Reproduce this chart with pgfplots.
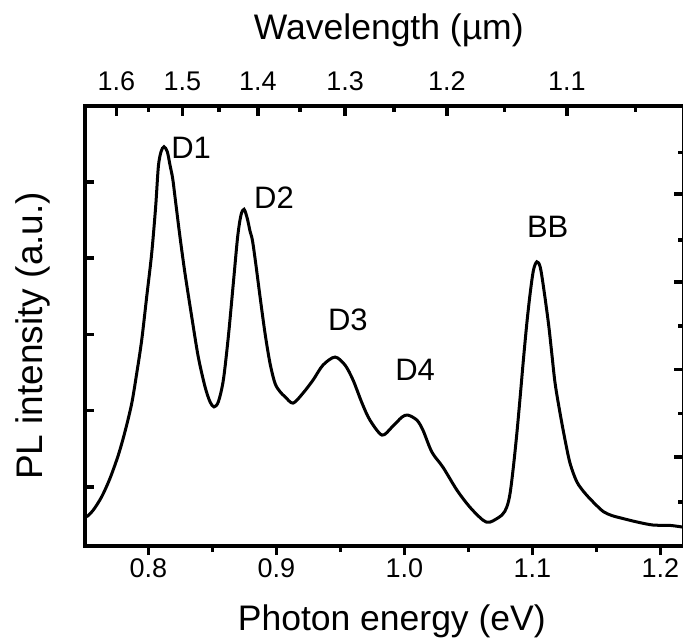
\documentclass[border=0pt]{standalone}
\usepackage{fontspec}
\setmainfont{Liberation Sans}
\usepackage{pgfplots}
\pgfplotsset{compat=1.18}
\begin{document}
\begin{tikzpicture}
\pgfplotsset{
  common/.style={
    width=599pt, height=440pt, scale only axis,
    xmin=0.7504, xmax=1.2187, ymin=0.223, ymax=5.993,
    axis line style={line width=4pt},
    every tick/.style={line width=3.5pt, black},
    /pgf/number format/assume math mode=true,
    tick label style={font=\fontsize{27}{32}\selectfont},
    label style={font=\fontsize{35.5}{42}\selectfont},
  }
}
\begin{axis}[common, name=ax,
  xtick={0.8,0.9,1.0,1.1,1.2},
  xticklabels={0.8,0.9,1.0,1.1,1.2},
  minor xtick={0.85,0.95,1.05,1.15},
  ytick={1,2,3,4,5}, yticklabels={},
  xtick pos=bottom, ytick pos=left,
  xtick align=outside, ytick align=inside,
  major tick length=9pt, minor tick length=6pt,
  xlabel={Photon energy (eV)},
  ylabel={PL intensity (a.u.)},
  xlabel style={at={(axis description cs:0.512,-0.171)}, anchor=center},
  ylabel style={at={(axis description cs:-0.0876,0.478)}, anchor=center, font=\fontsize{37}{44}\selectfont},
]
\addplot[black, line width=3pt, smooth] coordinates {
(0.7517,0.607) (0.7568,0.695) (0.7634,0.870) (0.7699,1.111) (0.7764,1.416)
(0.7816,1.722) (0.7869,2.094) (0.7908,2.488) (0.7947,2.924) (0.7986,3.492)
(0.8025,4.060) (0.8056,4.672) (0.8077,5.197) (0.8098,5.394) (0.8121,5.460)
(0.8147,5.394) (0.8168,5.220) (0.8189,5.045) (0.8207,4.805) (0.8246,4.280)
(0.8285,3.803) (0.8338,3.230) (0.8389,2.705) (0.8442,2.312) (0.8481,2.115)
(0.8512,2.049) (0.8546,2.115) (0.8585,2.400) (0.8624,2.968) (0.8663,3.668)
(0.8697,4.280) (0.8723,4.564) (0.8747,4.639) (0.8772,4.520) (0.8794,4.350)
(0.8812,4.236) (0.8838,3.931) (0.8872,3.492) (0.8911,3.012) (0.8950,2.619)
(0.8989,2.357) (0.9028,2.248) (0.9067,2.182) (0.9130,2.098) (0.9208,2.230)
(0.9286,2.400) (0.9364,2.597) (0.9458,2.702) (0.9536,2.597) (0.9599,2.400)
(0.9669,2.098) (0.9731,1.875) (0.9825,1.679) (0.9903,1.784) (0.9981,1.915)
(1.0028,1.941) (1.0098,1.875) (1.0145,1.744) (1.0215,1.456) (1.0301,1.259)
(1.0411,0.957) (1.0512,0.734) (1.0614,0.564) (1.0669,0.538) (1.0762,0.630)
(1.0801,0.738) (1.0826,0.914) (1.0852,1.263) (1.0879,1.701) (1.0905,2.181)
(1.0930,2.662) (1.0957,3.144) (1.0983,3.537) (1.1009,3.843) (1.1035,3.951)
(1.1061,3.886) (1.1087,3.624) (1.1126,3.144) (1.1152,2.750) (1.1178,2.357)
(1.1217,1.963) (1.1256,1.613) (1.1295,1.308) (1.1348,1.066) (1.1413,0.914)
(1.1491,0.775) (1.1556,0.675) (1.1620,0.625) (1.1685,0.595) (1.1818,0.540)
(1.1943,0.500) (1.2076,0.495) (1.2178,0.472)
};
\node[font=\fontsize{31}{36}\selectfont] at (axis cs:0.8333,5.44) {D1};
\node[font=\fontsize{31}{36}\selectfont] at (axis cs:0.8981,4.79) {D2};
\node[font=\fontsize{31}{36}\selectfont] at (axis cs:0.9558,3.187) {D3};
\node[font=\fontsize{31}{36}\selectfont] at (axis cs:1.0084,2.531) {D4};
\node[font=\fontsize{31}{36}\selectfont] at (axis cs:1.112,4.406) {BB};
\end{axis}
\begin{axis}[common,
  xtick={0.77488,0.82653,0.88557,0.95369,1.03317,1.12709},
  xticklabels={1.6,1.5,1.4,1.3,1.2,1.1},
  minor xtick={0.79987,0.85503,0.91837,0.99184,1.07809,1.18076},
  ytick={1.394,2.540,3.689,4.837}, yticklabels={},
  minor ytick={0.804,1.963,3.108,4.236,5.384},
  xtick pos=top, ytick pos=right, xticklabel pos=top,
  tick align=inside,
  major tick length=10pt, minor tick length=6pt,
  xticklabel shift=12pt,
  xlabel={Wavelength (µm)},
  xlabel style={at={(axis description cs:0.507,1.173)}, anchor=center},
]
\end{axis}
\pgfresetboundingbox
\path[use as bounding box] ([xshift=-85pt,yshift=-95pt]ax.south west) rectangle ([xshift=-1.2pt,yshift=106pt]ax.north east);
\end{tikzpicture}
\end{document}
